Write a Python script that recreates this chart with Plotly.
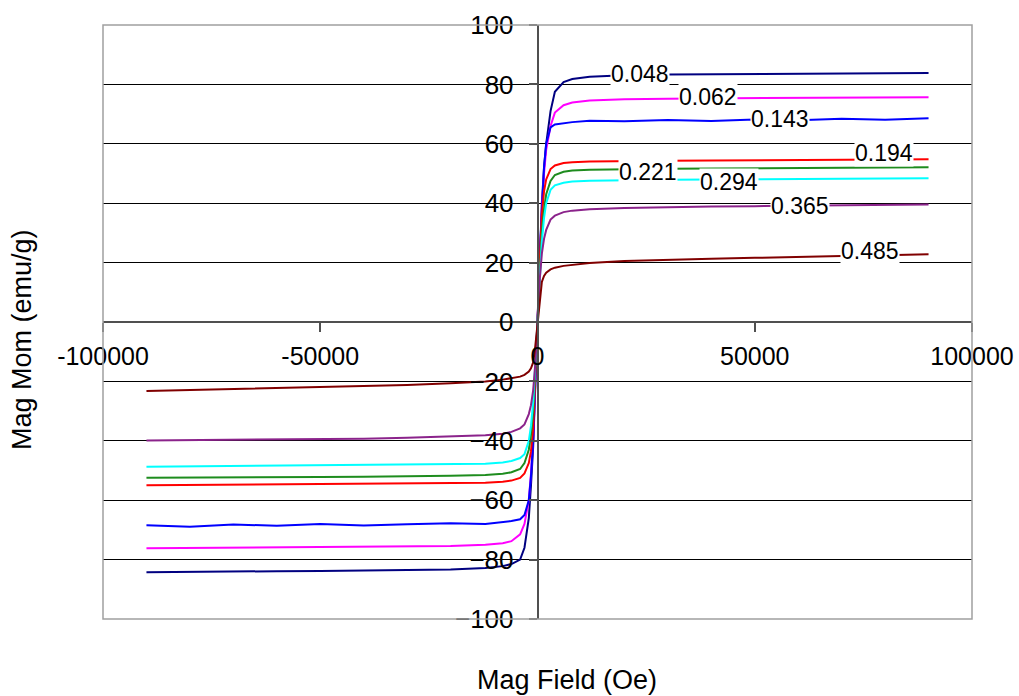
import plotly.graph_objects as go

# Magnetic field (Oe), shared by every series
field = [-90000, -80000, -70000, -60000, -50000, -40000, -30000, -20000, -12000, -8000, -6000,
         -4000, -3000, -2000, -1500, -1000, -500, 0, 500, 1000, 1500, 2000, 3000, 4000, 6000,
         8000, 12000, 20000, 30000, 40000, 50000, 60000, 70000, 80000, 90000]

labels = ["0.048", "0.062", "0.143", "0.194", "0.221", "0.294", "0.365", "0.485"]

m_0048 = [-84.3, -84.1, -84.0, -83.9, -83.8, -83.7, -83.5, -83.3, -82.8, -82.2, -81.5,
          -80.0, -76.0, -66.0, -55.0, -42.0, -21.0, 0, 20, 40, 52, 60, 71, 77.5, 80.8,
          81.8, 82.6, 83.1, 83.3, 83.4, 83.5, 83.6, 83.7, 83.7, 83.8]
m_0062 = [-76.2, -76.1, -76.0, -75.9, -75.8, -75.7, -75.6, -75.4, -75.0, -74.5, -73.8,
          -71.5, -68.0, -60.0, -51.0, -39.0, -20.0, 0, 20, 38, 50, 58, 66, 70.5, 73.0,
          73.9, 74.6, 75.0, 75.2, 75.3, 75.4, 75.5, 75.6, 75.6, 75.7]
m_0143 = [-68.4, -68.9, -68.2, -68.6, -68.0, -68.5, -68.1, -67.8, -68.0, -67.4, -67.0,
          -66.4, -65.0, -60.0, -52.0, -40.0, -22.0, 0, 22, 40, 52, 60, 65.5, 66.5, 67.0,
          67.3, 67.8, 67.6, 68.0, 67.7, 68.2, 67.9, 68.4, 68.1, 68.6]
m_0194 = [-55.0, -54.9, -54.9, -54.8, -54.7, -54.6, -54.5, -54.3, -54.1, -53.8, -53.4,
          -52.5, -51.0, -47.5, -43.5, -36.0, -20.0, 0, 20, 36, 44, 48, 51.5, 52.7, 53.5,
          53.8, 54.0, 54.2, 54.3, 54.4, 54.5, 54.6, 54.6, 54.7, 54.8]
m_0221 = [-52.4, -52.4, -52.3, -52.3, -52.2, -52.1, -52.0, -51.8, -51.5, -51.1, -50.6,
          -49.5, -47.5, -43.0, -38.0, -30.0, -16.0, 0, 16, 30, 38, 43, 47.5, 49.5, 50.6,
          51.0, 51.3, 51.5, 51.6, 51.7, 51.8, 51.9, 51.9, 52.0, 52.1]
m_0294 = [-48.7, -48.6, -48.5, -48.4, -48.3, -48.2, -48.1, -47.9, -47.7, -47.3, -46.8,
          -45.8, -44.5, -40.0, -35.0, -27.0, -14.0, 0, 14, 27, 35, 40, 44.5, 46.0, 46.9,
          47.3, 47.6, 47.8, 47.9, 48.0, 48.0, 48.1, 48.2, 48.3, 48.4]
m_0365 = [-39.9, -39.8, -39.7, -39.6, -39.5, -39.3, -39.0, -38.6, -38.1, -37.6, -37.0,
          -35.8, -34.5, -31.0, -28.0, -23.0, -14.0, 0, 14, 23, 28, 31, 34.5, 35.8, 37.0,
          37.5, 38.0, 38.4, 38.7, 38.9, 39.0, 39.2, 39.3, 39.5, 39.6]
m_0485 = [-23.2, -22.9, -22.6, -22.3, -22.0, -21.6, -21.2, -20.6, -20.0, -19.4, -19.0,
          -18.4, -17.8, -16.7, -15.6, -13.6, -8.0, 0, 8, 13.5, 15.5, 16.6, 17.7, 18.3, 18.9,
          19.3, 19.9, 20.5, 21.0, 21.3, 21.6, 22.0, 22.2, 22.5, 22.8]

series = [m_0048, m_0062, m_0143, m_0194, m_0221, m_0294, m_0365, m_0485]
colors = ["#000080", "#FF00FF", "#0000FF", "#FF0000", "#1E8C1E", "#00FFFF", "#8B238B", "#800000"]

# data-label anchor points (field, moment)
label_x = [23600, 39200, 55800, 79700, 25400, 44100, 60400, 76500]
label_y = [83.5, 75.7, 68.3, 56.8, 50.4, 47.0, 39.0, 23.8]

x_ticks = [-100000, -50000, 0, 50000, 100000]
y_ticks = [-100, -80, -60, -40, -20, 0, 20, 40, 60, 80, 100]

FONT = "Liberation Sans, Arial, sans-serif"

fig = go.Figure()
for name, vals, col in zip(labels, series, colors):
    fig.add_trace(go.Scatter(x=field, y=vals, mode="lines", name=name,
                             line=dict(color=col, width=2), showlegend=False))

for txt, lx, ly in zip(labels, label_x, label_y):
    fig.add_annotation(x=lx, y=ly, xref="x", yref="y", text=txt, showarrow=False,
                       font=dict(family=FONT, size=23, color="black"),
                       bgcolor="white", borderpad=0, xanchor="center", yanchor="middle")

fig.add_annotation(x=0.534, y=-0.1027, xref="paper", yref="paper", text="Mag Field (Oe)",
                   showarrow=False, font=dict(family=FONT, size=27, color="black"),
                   xanchor="center", yanchor="middle")
fig.add_annotation(x=-0.093, y=0.47, xref="paper", yref="paper", text="Mag Mom (emu/g)",
                   showarrow=False, textangle=-90, font=dict(family=FONT, size=27, color="black"),
                   xanchor="center", yanchor="middle")

# plot-area frame
fig.add_shape(type="rect", xref="paper", yref="paper", x0=0, y0=0, x1=1, y1=1,
              line=dict(color="#A0A0A0", width=1.5), layer="above")

fig.update_layout(
    width=1019, height=696,
    margin=dict(l=103, r=47, t=25, b=77, autoexpand=False),
    paper_bgcolor="white", plot_bgcolor="white",
    font=dict(family=FONT, size=26, color="black"),
    xaxis=dict(range=[-100000, 100000], tickvals=x_ticks, ticktext=[str(v) for v in x_ticks],
               showgrid=False, zeroline=False, showline=True, linecolor="#505050", linewidth=1.5,
               anchor="free", position=0.5, ticks="outside", ticklen=9, tickcolor="#505050",
               tickwidth=1.5, ticklabelstandoff=3, tickfont=dict(size=25), automargin=False),
    yaxis=dict(range=[-100, 100], tickvals=y_ticks, showgrid=True, gridcolor="#000000",
               gridwidth=1, zeroline=False, showline=True, linecolor="#505050", linewidth=1.5,
               anchor="free", position=0.5, ticks="outside", ticklen=8, tickcolor="#505050",
               tickwidth=1.5, ticklabelstandoff=10, tickfont=dict(size=26), automargin=False),
)

fig.write_html("out.html", config={"displayModeBar": False},
               post_script="document.body.style.margin='0px';document.body.style.overflow='hidden';")
